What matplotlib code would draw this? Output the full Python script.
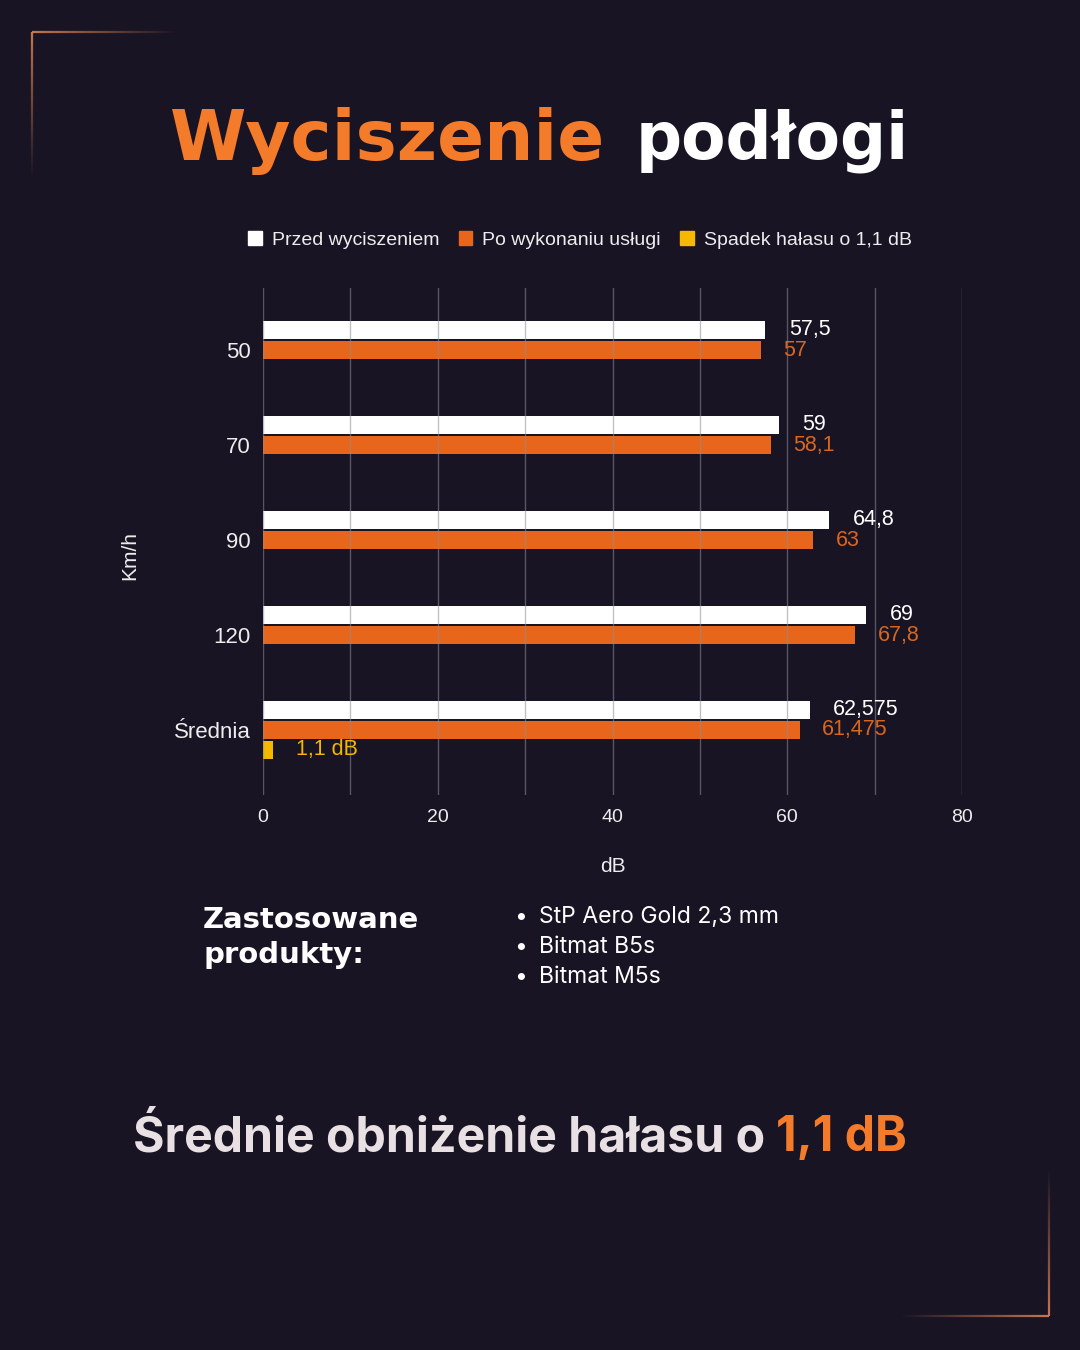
import numpy as np
import matplotlib
matplotlib.use("Agg")
import matplotlib.pyplot as plt
from matplotlib.collections import LineCollection
from matplotlib.patches import Patch

plt.rcParams["font.family"] = ["Liberation Sans", "DejaVu Sans"]

BG = "#181424"
ORANGE = "#E8661C"
LABEL_ORANGE = "#D9661F"
TITLE_ORANGE = "#F47B2A"
YELLOW = "#F5B700"
TXT = "#EDEDED"

categories = ["50", "70", "90", "120", "Średnia"]
before = [57.5, 59, 64.8, 69, 62.575]
after = [57, 58.1, 63, 67.8, 61.475]
drop = [0, 0, 0, 0, 1.1]
series_names = ["Przed wyciszeniem", "Po wykonaniu usługi", "Spadek hałasu o 1,1 dB"]
x_ticks = [0, 20, 40, 60, 80]
products = ["StP Aero Gold 2,3 mm", "Bitmat B5s", "Bitmat M5s"]

W, H = 1080, 1350


def fmt(v):
    return f"{v:g}".replace(".", ",")


def fx(px):
    return px / W


def fy(py):
    return 1 - py / H


def fade_line(ax, x0, y0, x1, y1, start_alpha=0.9, n=60):
    # line that fades out from (x0, y0) towards (x1, y1), in pixels
    xs = np.linspace(fx(x0), fx(x1), n + 1)
    ys = np.linspace(fy(y0), fy(y1), n + 1)
    segs = [[(xs[i], ys[i]), (xs[i + 1], ys[i + 1])] for i in range(n)]
    alphas = np.linspace(start_alpha, 0.0, n)
    cols = [(0.85, 0.5, 0.32, a) for a in alphas]
    ax.add_collection(LineCollection(segs, colors=cols, linewidths=1.6,
                                     transform=ax.transAxes))


def fit_text(x, y, s, width_px, size, **kw):
    # put text, then rescale font so it spans about width_px
    t = fig.text(fx(x), fy(y), s, fontsize=size, va="center", ha="left", **kw)
    fig.canvas.draw()
    w = t.get_window_extent().width
    t.set_fontsize(size * width_px / w)
    return t


fig = plt.figure(figsize=(W / 100, H / 100), dpi=100, facecolor=BG)

# frame decorations
deco = fig.add_axes([0, 0, 1, 1])
deco.set_axis_off()
deco.set_xlim(0, 1)
deco.set_ylim(0, 1)
fade_line(deco, 32, 32, 180, 32)
fade_line(deco, 32, 32, 32, 178)
fade_line(deco, 1049, 1316, 900, 1316)
fade_line(deco, 1049, 1316, 1049, 1168)

# title
fit_text(170, 141, "Wyciszenie", 435, 44, color=TITLE_ORANGE,
         fontweight="heavy", family="DejaVu Sans")
fit_text(636, 141, "podłogi", 274, 44, color="white",
         fontweight="heavy", family="DejaVu Sans")

# chart
ax = fig.add_axes([fx(263), fy(795), 699 / W, 507 / H])
ax.set_facecolor(BG)
y = np.arange(len(categories))
h = 0.19
slot = 20 / 95
ax.barh(y - slot, before, height=h, color="white", label=series_names[0], zorder=2)
ax.barh(y, after, height=h, color=ORANGE, label=series_names[1], zorder=2)
ax.barh(y + slot, drop, height=h, color=YELLOW, label=series_names[2], zorder=2)

for i in range(len(categories)):
    ax.annotate(fmt(before[i]), (before[i], y[i] - slot), xytext=(17, 0),
                textcoords="offset points", va="center", ha="left",
                color="white", fontsize=15.5, zorder=4)
    ax.annotate(fmt(after[i]), (after[i], y[i]), xytext=(16, 0),
                textcoords="offset points", va="center", ha="left",
                color=LABEL_ORANGE, fontsize=15.5, zorder=4)
    if drop[i] > 0:
        ax.annotate(fmt(drop[i]) + " dB", (drop[i], y[i] + slot), xytext=(17, 0),
                    textcoords="offset points", va="center", ha="left",
                    color=YELLOW, fontsize=15.5, zorder=4)

ax.set_xlim(0, 80)
ax.set_ylim(4 + 65 / 95, -62 / 95)
grid_x = np.arange(0, 81, 10)
ax.set_xticks(grid_x)
ax.set_xticklabels([str(v) if v in x_ticks else "" for v in grid_x])
ax.set_yticks(y)
ax.set_yticklabels(categories)
ax.tick_params(axis="both", length=0, colors=TXT)
ax.tick_params(axis="x", pad=10, labelsize=14)
ax.tick_params(axis="y", pad=9, labelsize=16)
ax.set_axisbelow(False)
ax.grid(axis="x", color="#8e8e96", linewidth=1.0, alpha=0.55, zorder=3)
for s in ax.spines.values():
    s.set_visible(False)
ax.set_xlabel("dB", color=TXT, fontsize=15)
ax.set_ylabel("Km/h", color=TXT, fontsize=15)
ax.xaxis.set_label_coords(0.5, -(867 - 795) / 507)
ax.yaxis.set_label_coords((130 - 263) / 699, 1 - (555 - 288) / 507)
ax.xaxis.label.set_va("center")
ax.yaxis.label.set_va("center")

handles = [Patch(color="white"), Patch(color=ORANGE), Patch(color=YELLOW)]
fig.legend(handles, series_names, loc="center", bbox_to_anchor=(fx(580), fy(240)),
           ncol=3, frameon=False, labelcolor=TXT,
           handlelength=0.7, handleheight=0.7, handletextpad=0.5, columnspacing=1.0,
           prop={"size": 14})

# products
head = 21
fig.text(fx(203), fy(920), "Zastosowane", color="white", fontsize=head,
         fontweight="heavy", family="DejaVu Sans", va="center", ha="left")
fig.text(fx(203), fy(955), "produkty:", color="white", fontsize=head,
         fontweight="heavy", family="DejaVu Sans", va="center", ha="left")
t = fit_text(539, 917, products[0], 240, 15, color="white", family="Inter")
psize = t.get_fontsize()
for k, p in enumerate(products):
    py = 917 + 30 * k
    fig.text(fx(521), fy(py), "•", color="white", fontsize=psize,
             family="Inter", va="center", ha="center")
    if k > 0:
        fig.text(fx(539), fy(py), p, color="white", fontsize=psize,
                 family="Inter", va="center", ha="left")

# bottom summary
b1 = fig.text(fx(133), fy(1138), "Średnie obniżenie hałasu o ", color="#E8E0E2",
              fontsize=31, fontweight="bold", family="Inter", va="center", ha="left")
b2 = fig.text(fx(133), fy(1138), "1,1 dB", color=TITLE_ORANGE,
              fontsize=31, fontweight="bold", family="Inter", va="center", ha="left")
fig.canvas.draw()
total = b1.get_window_extent().width + b2.get_window_extent().width
size = 31 * 777 / total
b1.set_fontsize(size)
b2.set_fontsize(size)
fig.canvas.draw()
b2.set_x(b1.get_window_extent().x1 / W)

fig.savefig("out.png", dpi=100, facecolor=BG)
